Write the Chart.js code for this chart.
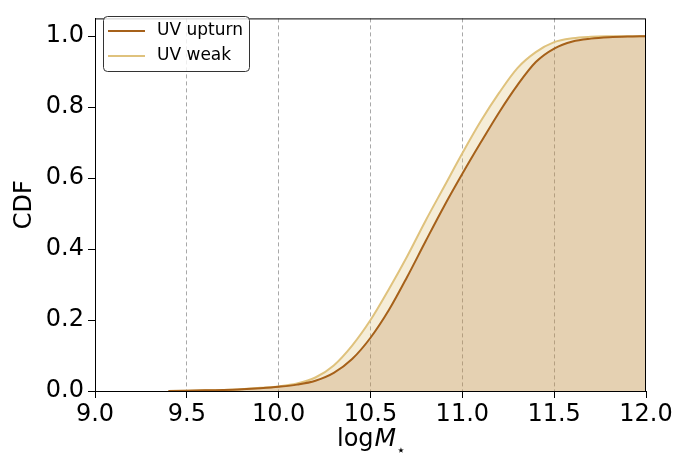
<!DOCTYPE html>
<html>
<head>
<meta charset="utf-8">
<script src="https://cdn.jsdelivr.net/npm/chart.js@4.4.0/dist/chart.umd.min.js"></script>
<style>
  html, body { margin: 0; padding: 0; background: #fff; }
  #wrap { width: 678px; height: 457px; }
</style>
</head>
<body>
<div id="wrap"><canvas id="mycanvas" width="678" height="457"></canvas></div>
<script>
// stellar mass grid (log M*) and CDF values
var logMass = [9.4, 9.5, 9.6, 9.7, 9.8, 9.9, 10.0, 10.1, 10.2, 10.3, 10.4, 10.5, 10.6, 10.7, 10.8, 10.9,
               11.0, 11.1, 11.2, 11.3, 11.4, 11.5, 11.6, 11.7, 11.8, 11.9, 12.0];
var cdfUpturn = [0, 0.001, 0.002, 0.003, 0.005, 0.008, 0.012, 0.018, 0.029, 0.051, 0.09, 0.15, 0.228, 0.322, 0.422, 0.52,
                 0.612, 0.70, 0.785, 0.862, 0.927, 0.965, 0.985, 0.993, 0.997, 0.999, 1.0];
var cdfWeak = [0, 0.001, 0.002, 0.003, 0.005, 0.009, 0.013, 0.021, 0.038, 0.072, 0.128, 0.2, 0.287, 0.38, 0.48, 0.575,
               0.67, 0.76, 0.84, 0.91, 0.955, 0.983, 0.994, 0.998, 0.9995, 1.0, 1.0];
var xTicks = [9.0, 9.5, 10.0, 10.5, 11.0, 11.5, 12.0];
var yTicks = [0.0, 0.2, 0.4, 0.6, 0.8, 1.0];
var seriesNames = ['UV upturn', 'UV weak'];

var colUpturn = '#a6611a';
var colWeak = '#dfc27d';
var FONT = "'DejaVu Sans', sans-serif";

function toPoints(xs, ys) {
  var pts = [];
  for (var i in xs) pts.push({x: xs[i], y: ys[i]});
  return pts;
}

var chartdata = {
  datasets: [
    {
      label: seriesNames[0],
      data: toPoints(logMass, cdfUpturn),
      borderColor: colUpturn,
      backgroundColor: 'rgba(166, 97, 26, 0.2)',
      borderWidth: 2,
      fill: 'origin',
      pointRadius: 0,
      cubicInterpolationMode: 'monotone'
    },
    {
      label: seriesNames[1],
      data: toPoints(logMass, cdfWeak),
      borderColor: colWeak,
      backgroundColor: 'rgba(223, 194, 125, 0.3)',
      borderWidth: 2,
      fill: 'origin',
      pointRadius: 0,
      cubicInterpolationMode: 'monotone'
    }
  ]
};

// frame + legend + x title drawn by hand (matplotlib style)
var extras = {
  id: 'extras',
  afterDraw: function(chart) {
    var ctx = chart.ctx, a = chart.chartArea;
    ctx.save();
    ctx.strokeStyle = '#000';
    ctx.lineWidth = 1;
    ctx.strokeRect(a.left + 0.5, a.top + 0.5, a.right - a.left - 1, a.bottom - a.top);

    // legend
    var bx = 103.5, by = 16.5, bw = 146, bh = 55, r = 4;
    ctx.fillStyle = 'rgba(255,255,255,0.8)';
    ctx.strokeStyle = '#333';
    ctx.lineWidth = 1;
    ctx.beginPath();
    ctx.moveTo(bx + r, by);
    ctx.arcTo(bx + bw, by, bx + bw, by + bh, r);
    ctx.arcTo(bx + bw, by + bh, bx, by + bh, r);
    ctx.arcTo(bx, by + bh, bx, by, r);
    ctx.arcTo(bx, by, bx + bw, by, r);
    ctx.closePath();
    ctx.fill();
    ctx.stroke();
    var ds = chart.data.datasets;
    ctx.font = '17px ' + FONT;
    ctx.textBaseline = 'middle';
    for (var i = 0; i < ds.length; i++) {
      var yy = 31 + i * 25;
      ctx.strokeStyle = ds[i].borderColor;
      ctx.lineWidth = 2;
      ctx.beginPath();
      ctx.moveTo(108, yy);
      ctx.lineTo(145, yy);
      ctx.stroke();
      ctx.fillStyle = '#000';
      ctx.fillText(ds[i].label, 157, yy);
    }

    // x axis title: log M_star
    ctx.fillStyle = '#000';
    ctx.textBaseline = 'alphabetic';
    var base = 446;
    var x0 = 337;
    ctx.font = '24px ' + FONT;
    var w1 = ctx.measureText('log').width;
    ctx.fillText('log', x0, base);
    ctx.font = 'italic 25px ' + FONT;
    var w2 = ctx.measureText('M').width;
    ctx.fillText('M', x0 + w1 + 1, base);
    ctx.font = '15px ' + FONT;
    ctx.fillText('\u22C6', x0 + w1 + w2 + 1, base + 9);
    ctx.restore();
  }
};

var ctx = document.getElementById('mycanvas');

var lineGraph = new Chart(ctx, {
  type: 'line',
  data: chartdata,
  plugins: [extras],
  options: {
    responsive: false,
    animation: false,
    layout: { padding: { left: 0, right: 32, top: 7, bottom: 0 } },
    plugins: {
      legend: { display: false },
      tooltip: { enabled: false }
    },
    scales: {
      x: {
        type: 'linear',
        min: 9.0,
        max: 12.0,
        afterBuildTicks: function(scale) {
          scale.ticks = xTicks.map(function(v) { return {value: v}; });
        },
        afterFit: function(scale) { scale.height = 66; },
        grid: {
          color: function(c) {
            var v = c.tick ? c.tick.value : null;
            return (v === 9.0 || v === 12.0) ? 'rgba(0,0,0,0)' : '#a8a8a8';
          },
          lineWidth: 1,
          tickColor: '#000',
          tickBorderDash: [],
          tickLength: 7,
          drawOnChartArea: true
        },
        border: { display: true, color: '#000', width: 1, dash: [4, 3] },
        ticks: {
          color: '#000',
          font: { family: FONT, size: 24 },
          padding: 2,
          maxRotation: 0,
          callback: function(v) { return v.toFixed(1); }
        }
      },
      y: {
        min: 0,
        max: 1.05,
        afterBuildTicks: function(scale) {
          scale.ticks = yTicks.map(function(v) { return {value: v}; });
        },
        afterFit: function(scale) { scale.width = 95; },
        grid: {
          drawOnChartArea: false,
          tickColor: '#000',
          tickLength: 7
        },
        border: { display: true, color: '#000', width: 1 },
        title: {
          display: true,
          text: 'CDF',
          color: '#000',
          font: { family: FONT, size: 24 },
          padding: { top: 10, bottom: 0 }
        },
        ticks: {
          color: '#000',
          font: { family: FONT, size: 24 },
          padding: 4,
          callback: function(v) { return v.toFixed(1); }
        }
      }
    }
  }
});
</script>
</body>
</html>
